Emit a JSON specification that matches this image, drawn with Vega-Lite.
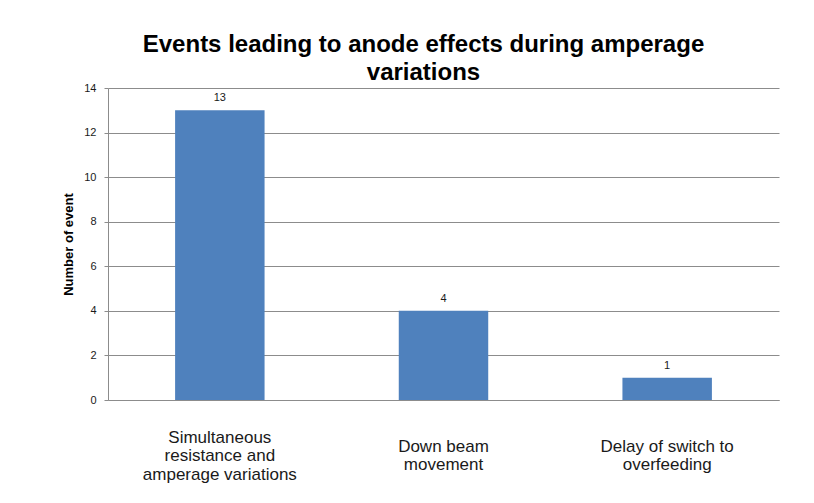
{
  "$schema": "https://vega.github.io/schema/vega-lite/v6.json",
  "autosize": "none",
  "width": 671,
  "height": 312,
  "padding": {"left": 108, "top": 88, "right": 35, "bottom": 103},
  "background": "white",
  "title": {
    "text": ["Events leading to anode effects during amperage", "variations"],
    "font": "Liberation Sans",
    "fontSize": 24,
    "fontWeight": "bold",
    "color": "#000000",
    "lineHeight": 28,
    "anchor": "middle",
    "dx": -20,
    "offset": -3
  },
  "data": {
    "values": [
      {"event": "Simultaneous resistance and amperage variations", "count": 13},
      {"event": "Down beam movement", "count": 4},
      {"event": "Delay of switch to overfeeding", "count": 1}
    ]
  },
  "encoding": {
    "x": {
      "field": "event",
      "type": "nominal",
      "sort": null,
      "scale": {"paddingInner": 0.6, "paddingOuter": 0.3},
      "axis": {
        "title": null,
        "labelAngle": 0,
        "ticks": false,
        "labelFont": "Liberation Sans",
        "labelFontSize": 17,
        "labelColor": "#1a1a1a",
        "labelLineHeight": 18.5,
        "labelBaseline": "middle",
        "labelPadding": {"condition": {"test": "datum.value == 'Simultaneous resistance and amperage variations'", "value": 37}, "value": 46},
        "labelLimit": 300,
        "domainColor": "#8c8c8c",
        "labelExpr": "datum.value == 'Simultaneous resistance and amperage variations' ? ['Simultaneous', 'resistance and', 'amperage variations'] : datum.value == 'Down beam movement' ? ['Down beam', 'movement'] : ['Delay of switch to', 'overfeeding']"
      }
    },
    "y": {
      "field": "count",
      "type": "quantitative",
      "scale": {"domain": [0, 14]},
      "axis": {
        "title": "Number of event",
        "titleFont": "Liberation Sans",
        "titleFontSize": 13,
        "titleFontWeight": "bold",
        "titleColor": "#000000",
        "titlePadding": 8,
        "values": [0, 2, 4, 6, 8, 10, 12, 14],
        "labelFont": "Liberation Sans",
        "labelFontSize": 11,
        "labelColor": "#1a1a1a",
        "labelPadding": 8,
        "tickSize": 4,
        "tickColor": "#8c8c8c",
        "domainColor": "#8c8c8c",
        "gridColor": "#8c8c8c",
        "grid": true
      }
    }
  },
  "layer": [
    {"mark": {"type": "bar", "color": "#4F81BD"}},
    {
      "mark": {"type": "text", "baseline": "alphabetic", "dy": -9, "font": "Liberation Sans", "fontSize": 11, "color": "#1a1a1a"},
      "encoding": {"text": {"field": "count", "type": "quantitative"}}
    }
  ],
  "config": {"view": {"stroke": null}}
}
